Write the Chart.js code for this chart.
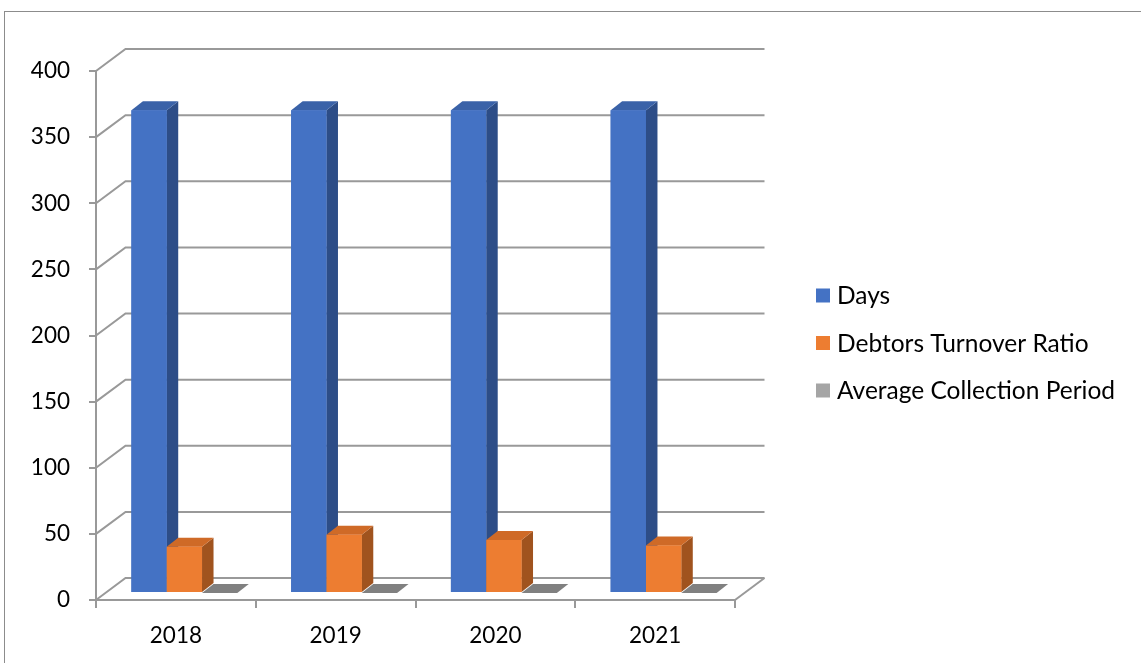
<!DOCTYPE html>
<html>
<head>
<meta charset="utf-8">
<script src="https://cdn.jsdelivr.net/npm/chart.js@4.4.1/dist/chart.umd.min.js"></script>
<style>
  html, body { margin: 0; padding: 0; background: #fff; overflow: hidden; }
  #frame { position: absolute; left: 4px; top: 11px; width: 1300px; height: 800px; border: 1px solid #8c8c8c; }
  #wrap { position: absolute; left: 0; top: 0; width: 1141px; height: 663px; }
</style>
</head>
<body>
<div id="frame"></div>
<div id="wrap"><canvas id="chart" width="1141" height="663"></canvas></div>
<script>
// Data
const years = ['2018', '2019', '2020', '2021'];
const days = [365, 365, 365, 365];
const debtorsTurnover = [35, 44, 40, 36];
const avgCollection = [0, 0, 0, 0];
const seriesNames = ['Days', 'Debtors Turnover Ratio', 'Average Collection Period'];

const FAMILY = 'Lato, "Open Sans", sans-serif';
const FONT = { family: FAMILY, size: 22.5 };
const LEGEND_SIZE = 24.5;
const GRID = '#999999';

// depth of the back wall and of the bars
const WALL_DX = 29.5, WALL_DY = 22;
const BAR_DX = 8.5, BAR_DY = 7;
const BOX_DX = 11.5, BOX_DY = 9;

function poly(ctx, pts, color) {
  ctx.beginPath();
  ctx.moveTo(pts[0][0], pts[0][1]);
  for (let i = 1; i < pts.length; i++) ctx.lineTo(pts[i][0], pts[i][1]);
  ctx.closePath();
  ctx.fillStyle = color;
  ctx.fill();
}

const depth3d = {
  id: 'depth3d',
  beforeDatasetsDraw(chart) {
    const { ctx, chartArea: a, scales: { y } } = chart;
    ctx.save();
    ctx.strokeStyle = GRID;
    ctx.lineWidth = 2;
    y.ticks.forEach(t => {
      const py = y.getPixelForValue(t.value);
      ctx.beginPath();
      ctx.moveTo(a.left, py);
      ctx.lineTo(a.left + WALL_DX, py - WALL_DY);
      ctx.lineTo(a.right + WALL_DX, py - WALL_DY);
      ctx.stroke();
    });
    // right edge of the floor
    const p0 = y.getPixelForValue(0);
    ctx.beginPath();
    ctx.moveTo(a.right, p0);
    ctx.lineTo(a.right + WALL_DX, p0 - WALL_DY);
    ctx.stroke();
    ctx.restore();

    ctx.save();
    ctx.translate(BAR_DX, -BAR_DY);
  },
  afterDatasetsDraw(chart) {
    const ctx = chart.ctx;
    chart.data.datasets.forEach((ds, i) => {
      const meta = chart.getDatasetMeta(i);
      meta.data.forEach(el => {
        const { x, y, base, width } = el.getProps(['x', 'y', 'base', 'width'], true);
        const l = x - width / 2, r = x + width / 2;
        poly(ctx, [[r, y], [r + BOX_DX, y - BOX_DY], [r + BOX_DX, base - BOX_DY], [r, base]], ds.sideColor);
        poly(ctx, [[l, y], [l + BOX_DX, y - BOX_DY], [r + BOX_DX, y - BOX_DY], [r, y]], ds.topColor);
        el.draw(ctx, chart.chartArea);
      });
    });
    ctx.restore();
  },
  afterDraw(chart) {
    // legend
    const ctx = chart.ctx;
    const rows = [295.5, 343, 390.5];
    ctx.save();
    ctx.font = LEGEND_SIZE + 'px ' + FAMILY;
    ctx.textBaseline = 'middle';
    ctx.textAlign = 'left';
    chart.data.datasets.forEach((ds, i) => {
      ctx.fillStyle = ds.backgroundColor;
      ctx.fillRect(816, rows[i] - 7, 14, 14);
      ctx.fillStyle = '#000';
      ctx.fillText(ds.label, 837, rows[i] + 1);
    });
    ctx.restore();
  }
};

new Chart(document.getElementById('chart'), {
  type: 'bar',
  data: {
    labels: years,
    datasets: [
      { label: seriesNames[0], data: days, backgroundColor: '#4472c4', topColor: '#3a62a8', sideColor: '#2d4d87' },
      { label: seriesNames[1], data: debtorsTurnover, backgroundColor: '#ed7d31', topColor: '#cf6a27', sideColor: '#a0531e' },
      { label: seriesNames[2], data: avgCollection, backgroundColor: '#a5a5a5', topColor: '#808080', sideColor: '#6e6e6e' },
    ],
  },
  options: {
    responsive: false,
    animation: false,
    layout: { padding: { top: 71, left: 0, right: 406, bottom: 0 } },
    datasets: { bar: { categoryPercentage: 0.663, barPercentage: 1, borderWidth: 0, clip: false } },
    plugins: { legend: { display: false }, tooltip: { enabled: false } },
    scales: {
      x: {
        grid: { drawOnChartArea: false, tickLength: 8, color: GRID, lineWidth: 2, offset: true },
        border: { color: GRID, width: 2 },
        ticks: { font: FONT, color: '#000', padding: 14 },
        afterFit: s => { s.height = 63; },
      },
      y: {
        min: 0,
        max: 400,
        grid: { drawOnChartArea: false, tickLength: 7, color: GRID, lineWidth: 2 },
        border: { color: GRID, width: 2 },
        ticks: { stepSize: 50, font: FONT, color: '#000', padding: 19 },
        afterFit: s => { s.width = 96; },
      },
    },
  },
  plugins: [depth3d],
});
</script>
</body>
</html>
